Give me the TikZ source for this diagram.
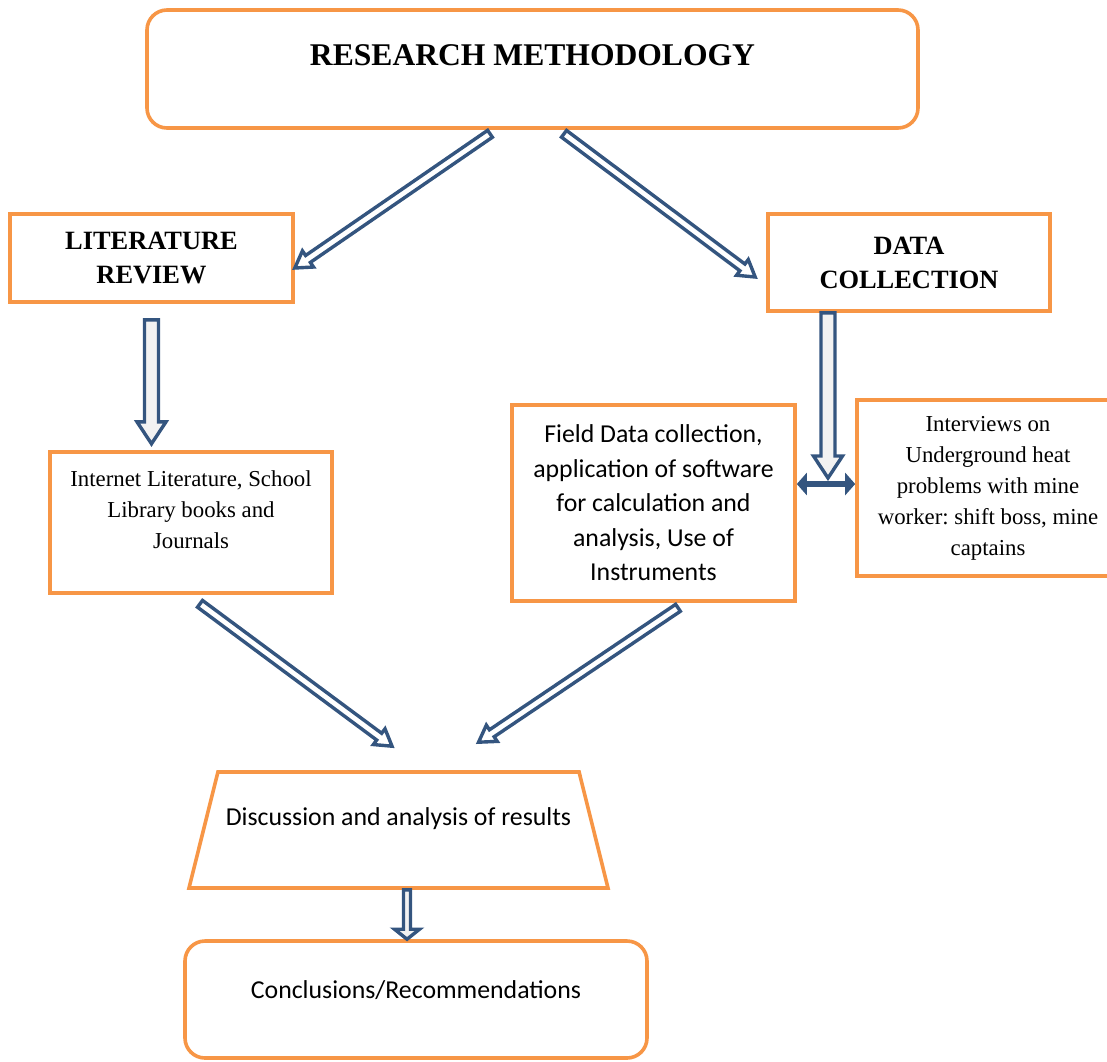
\documentclass[tikz,border=0pt]{standalone}
\usepackage{fontspec}
\setmainfont{Liberation Serif}
\newfontfamily\calibri{Carlito}
\usetikzlibrary{calc,shapes.geometric,arrows.meta}
\definecolor{boxorange}{HTML}{F79646}
\definecolor{arrowblue}{HTML}{34557F}
\definecolor{shaftgray}{HTML}{F2F2F2}
\frenchspacing
\tikzset{
	box/.style={draw=boxorange, line width=1.8pt, fill=white, align=center, inner sep=0pt},
	heading/.style={font=\bfseries\fontsize{13.2}{17}\selectfont},
	serif/.style={font=\fontsize{11.4}{15.5}\selectfont},
	sans/.style={font=\calibri\fontsize{12.9}{17.25}\selectfont},
	blockline/.style={draw=arrowblue, line width=1.7pt, line join=miter},
	dblarrow/.style={draw=arrowblue, line width=3pt,
		{Triangle[length=5pt,width=11pt]}-{Triangle[length=5pt,width=11pt]}},
}
% hollow block arrow: [fill]{shaft half width}{head half width}{head length}{from}{to}
\newcommand{\blockarrow}[6][white]{%
	\coordinate (neck) at ($#6!#4!#5$);
	\filldraw[blockline, fill=#1] ($#5!#2!90:#6$) -- ($(neck)!#2!90:#6$) -- ($(neck)!#3!90:#6$) -- #6
		-- ($(neck)!#3!-90:#6$) -- ($(neck)!#2!-90:#6$) -- ($#5!#2!-90:#6$) -- cycle;}

\begin{document}
\begin{tikzpicture}[x=0.5pt, y=-0.5pt]
		\useasboundingbox (0,0) rectangle (1107,1061);
		\node (rm) at (532.5,69) [box, rounded corners=10pt, minimum width=385.5pt, minimum height=59pt,
			font=\bfseries\fontsize{15.8}{19}\selectfont, text height=11pt, text depth=14.5pt] {RESEARCH METHODOLOGY};
		\node (lr) at (151.5,258) [box, heading, minimum width=141.5pt, minimum height=44pt] {LITERATURE\\REVIEW};
		\node (dc) at (909,262.5) [box, heading, minimum width=141pt, minimum height=48.5pt] {DATA\\COLLECTION};
		\node (ilit) at (191,522.5) [box, serif, minimum width=141pt, minimum height=70.5pt,
			text height=39pt, text depth=12.6pt] {Internet Literature, School\\Library books and\\Journals};
		\node (fd) at (653.5,503) [box, sans, minimum width=141.5pt, minimum height=98pt]
			{Field Data collection,\\application of software\\for calculation and\\analysis, Use of\\Instruments};
		\node (int) at (988,488) [box, serif, minimum width=131pt, minimum height=88pt]
			{Interviews on\\Underground heat\\problems with mine\\worker: shift boss, mine\\captains};
		\node (disc) at (398.5,830) [box, sans, trapezium, trapezium left angle=76, trapezium right angle=76,
			trapezium stretches body=true, minimum width=209.5pt, inner ysep=17.5pt,
			text height=9pt, text depth=14pt] {Discussion and analysis of results};
		\node (conc) at (416,999.5) [box, sans, rounded corners=10pt, minimum width=231pt, minimum height=58.5pt,
			text height=9pt, text depth=10.5pt] {Conclusions/Recommendations};

		% arrow ends
		\coordinate (rm-l) at ($(rm.south)+(-42.5,4)$);
		\coordinate (lr-in) at ($(lr.east)+(0,10)$);
		\coordinate (rm-r) at ($(rm.south)+(31.5,4)$);
		\coordinate (dc-in) at ($(dc.west)+(-11,14.5)$);
		\coordinate (lr-out) at ($(lr.south)+(0,16)$);
		\coordinate (ilit-in) at ($(lr.south)+(0,140)$);
		\coordinate (dbl-l) at ($(fd.east |- int.west)+(0,-4)$);
		\coordinate (dbl-r) at ($(int.west)+(0,-4)$);
		\coordinate (junc) at ($(dbl-l)!0.5!(dbl-r)$);
		\coordinate (dc-out) at ($(dc.south -| junc)+(2,0)$);
		\coordinate (junc-in) at ($(junc)+(2,-6)$);
		\coordinate (ilit-out) at ($(ilit.south)+(9,9)$);
		\coordinate (disc-l) at ($(disc.north)+(-6.5,-24)$);
		\coordinate (fd-out) at ($(fd.south)+(24.5,5)$);
		\coordinate (disc-r) at ($(disc.north)+(80,-28)$);
		\coordinate (disc-out) at ($(disc.south)+(8.5,0)$);
		\coordinate (conc-in) at ($(conc.north)+(-9,0)$);

		\blockarrow{2.1pt}{4.9pt}{8pt}{(rm-l)}{(lr-in)}
		\blockarrow{2.1pt}{4.9pt}{8pt}{(rm-r)}{(dc-in)}
		\blockarrow[shaftgray]{3.5pt}{7.25pt}{11pt}{(lr-out)}{(ilit-in)}
		\blockarrow[shaftgray]{3.5pt}{7.25pt}{11pt}{(dc-out)}{(junc-in)}
		\draw[dblarrow] (dbl-l) -- (dbl-r);
		\blockarrow{2.1pt}{4.9pt}{8pt}{(ilit-out)}{(disc-l)}
		\blockarrow{2.1pt}{4.9pt}{8pt}{(fd-out)}{(disc-r)}
		\blockarrow[shaftgray]{1.75pt}{6.25pt}{5pt}{(disc-out)}{(conc-in)}
	\end{tikzpicture}
\end{document}
